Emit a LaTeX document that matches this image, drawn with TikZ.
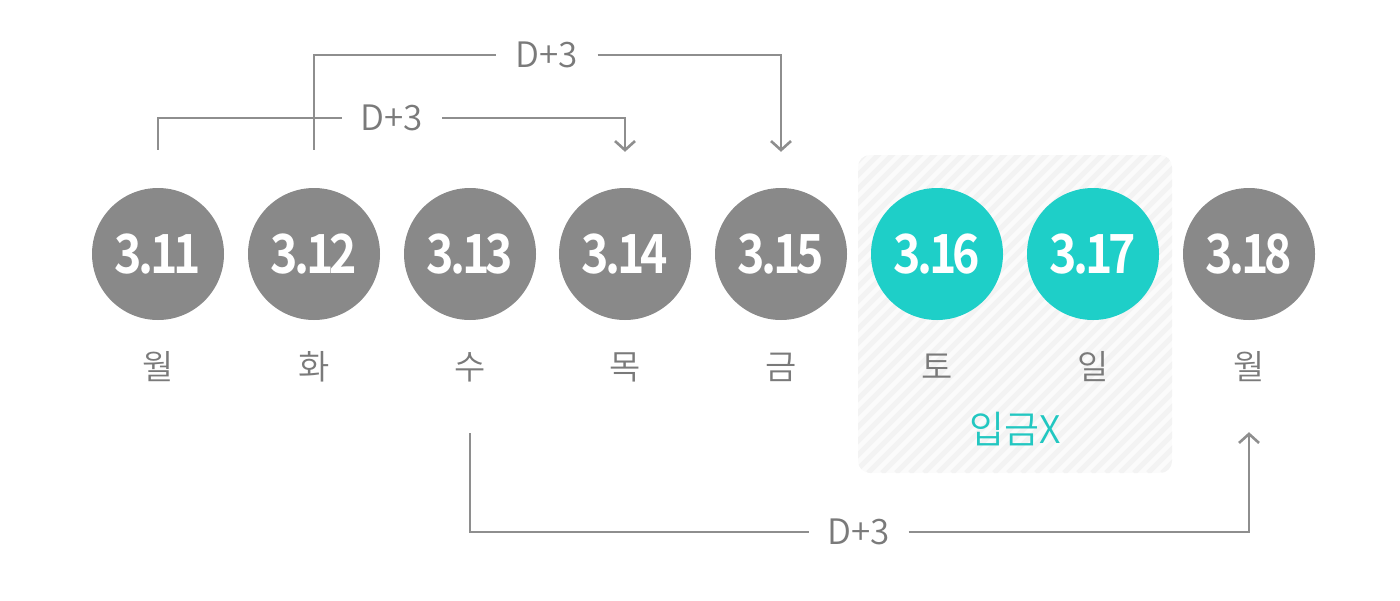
\documentclass[tikz,border=0pt]{standalone}
\usepackage{fontspec}
\setmainfont{Noto Sans CJK KR}
\newfontfamily\numfont{Noto Sans CJK KR}[UprightFont=* Bold, LetterSpace=-8]
\newfontfamily\lightfont{Noto Sans CJK KR}[UprightFont=* DemiLight]
\usetikzlibrary{arrows.meta,calc}
\definecolor{dgray}{HTML}{898989}
\definecolor{lgray}{HTML}{8E8E8E}
\definecolor{tgray}{HTML}{7A7A7A}
\definecolor{teal1}{HTML}{1ECFC8}
\definecolor{teal2}{HTML}{22C7C1}
\definecolor{hatchbg}{HTML}{FBFBFB}
\definecolor{hatchln}{HTML}{F3F3F3}
\tikzset{
  daycirc/.style={circle, minimum size=132pt, inner sep=0pt, fill=#1, text=white,
    font=\fontsize{54}{54}\numfont},
  dayname/.style={text=tgray, font=\fontsize{34}{34}\lightfont, inner sep=0pt},
  gaplabel/.style={text=tgray, font=\fontsize{35}{35}\lightfont, inner sep=0pt, minimum width=#1, minimum height=30pt},
  conn/.style={draw=lgray, line width=2.6pt},
  connarrow/.style={conn, -{Straight Barb[length=9pt,width=20pt,line width=2.6pt]}},
}
\newcommand{\num}[1]{\scalebox{0.86}[1]{#1}}
\begin{document}
\begin{tikzpicture}[x=1pt,y=-1pt]
\useasboundingbox (0,0) rectangle (1400,600);
% hatched weekend box
\begin{scope}
  \path[clip,rounded corners=12pt] (858,155) rectangle (1172,473);
  \fill[hatchbg] (858,155) rectangle (1172,473);
  \foreach \k in {0,14,...,700} {
    \draw[hatchln,line width=5pt] (858-340+\k,473) -- (858+\k,133);
  }
\end{scope}
% day circles
\node[daycirc=dgray] (d1) at (158,254) {\num{3.11}};
\node[daycirc=dgray] (d2) at (314,254) {\num{3.12}};
\node[daycirc=dgray] (d3) at (470,254) {\num{3.13}};
\node[daycirc=dgray] (d4) at (625,254) {\num{3.14}};
\node[daycirc=dgray] (d5) at (781,254) {\num{3.15}};
\node[daycirc=teal1] (d6) at (937,254) {\num{3.16}};
\node[daycirc=teal1] (d7) at (1093,254) {\num{3.17}};
\node[daycirc=dgray] (d8) at (1249,254) {\num{3.18}};
% day names
\node[dayname] (n1) at (158,367) {월};
\node[dayname] (n2) at (314,367) {화};
\node[dayname] (n3) at (470,367) {수};
\node[dayname] (n4) at (625,367) {목};
\node[dayname] (n5) at (781,367) {금};
\node[dayname] (n6) at (937,367) {토};
\node[dayname] (n7) at (1093,367) {일};
\node[dayname] (n8) at (1249,367) {월};
\node[text=teal2, font=\fontsize{38}{38}\lightfont, inner sep=0pt] (nx) at (1015,429) {입금X};
% connector labels
\node[gaplabel=100pt] (g1) at (392,118) {D+3};
\node[gaplabel=101pt] (g2) at (547,55) {D+3};
\node[gaplabel=99pt] (g3) at (859,532) {D+3};
% connector endpoints
\coordinate (s1) at ($(d1.north)+(0,-38)$);
\coordinate (e1) at ($(d4.north)+(0,-36)$);
\coordinate (s2) at ($(d2.north)+(0,-38)$);
\coordinate (e2) at ($(d5.north)+(0,-36)$);
\coordinate (s3) at ($(d3.south)+(0,113)$);
\coordinate (e3) at ($(d8.south)+(0,112)$);
% connectors
\draw[conn] (s1) |- (g1.west);
\draw[connarrow] (g1.east) -| (e1);
\draw[conn] (s2) |- (g2.west);
\draw[connarrow] (g2.east) -| (e2);
\draw[conn] (s3) |- (g3.west);
\draw[connarrow] (g3.east) -| (e3);
\end{tikzpicture}
\end{document}
